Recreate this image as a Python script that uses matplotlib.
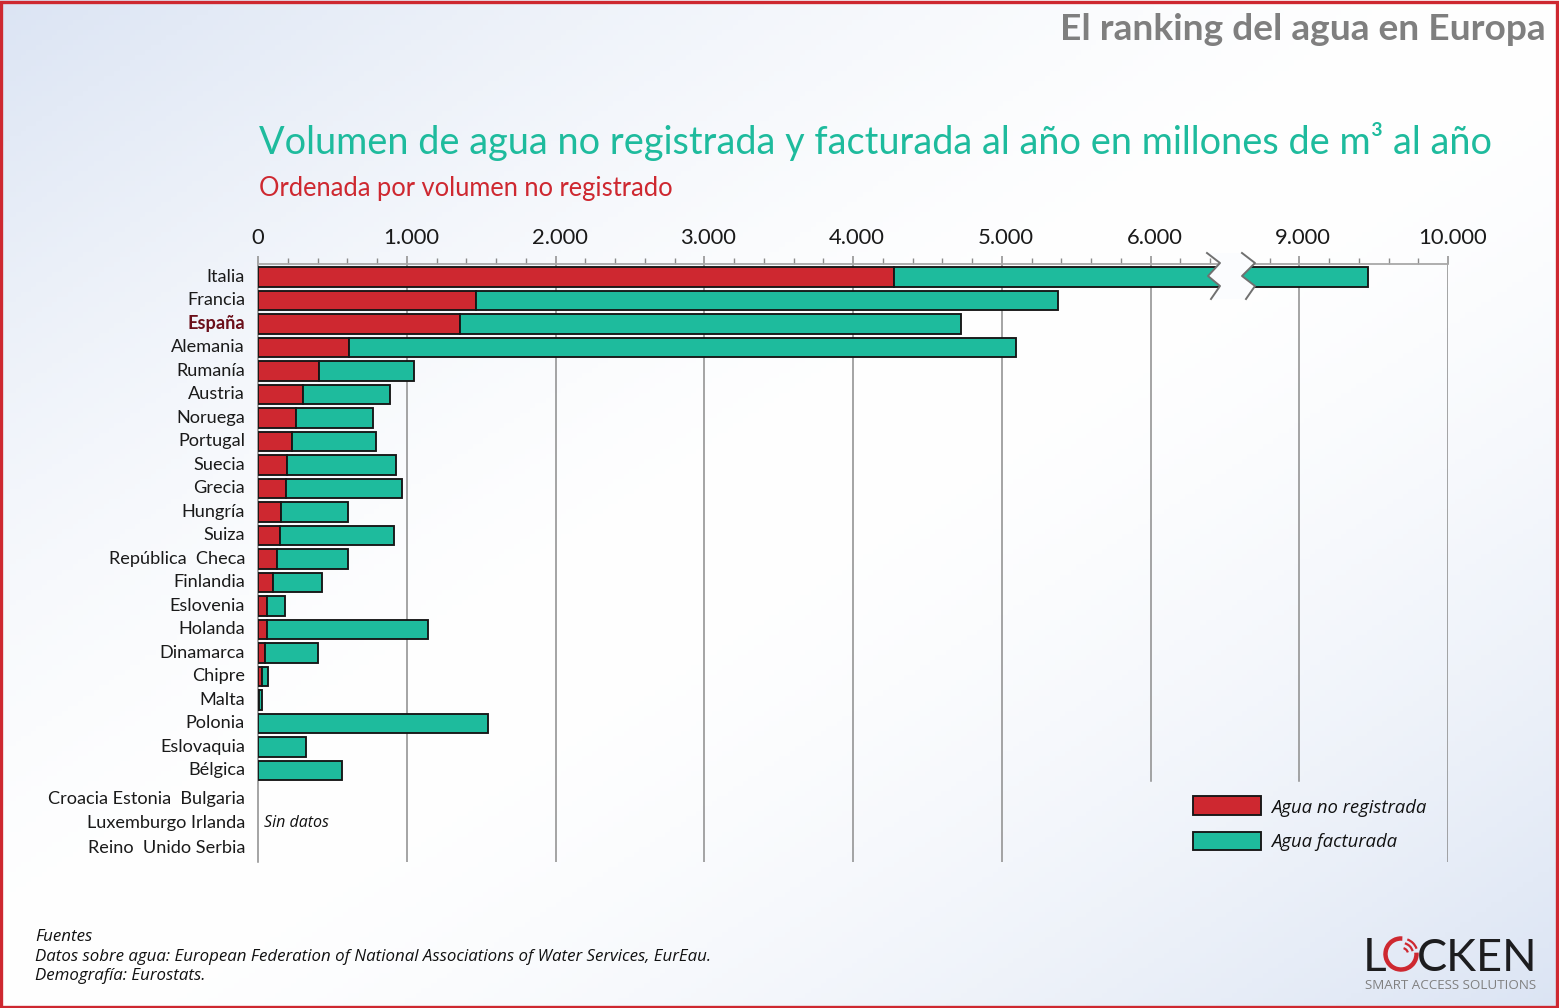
import numpy as np
import matplotlib
matplotlib.use("Agg")
import matplotlib.pyplot as plt
from matplotlib.patches import Arc, Polygon, Rectangle
from matplotlib.transforms import ScaledTranslation

paises = ["Italia", "Francia", "España", "Alemania", "Rumanía", "Austria", "Noruega", "Portugal",
          "Suecia", "Grecia", "Hungría", "Suiza", "República  Checa", "Finlandia", "Eslovenia",
          "Holanda", "Dinamarca", "Chipre", "Malta", "Polonia", "Eslovaquia", "Bélgica"]
no_registrada = [4276, 1466, 1358, 612, 410, 303, 255, 229, 195, 188, 155, 148, 128, 101, 60, 60, 47, 27, 7, 3, 3, 0]
total = [9462, 5378, 4726, 5096, 1049, 887, 773, 793, 928, 968, 605, 914, 605, 430, 182, 1143, 403, 67, 27, 1546, 323, 565]
sin_datos = ["Croacia Estonia  Bulgaria", "Luxemburgo Irlanda", "Reino  Unido Serbia"]
ticks = [0, 1000, 2000, 3000, 4000, 5000, 6000, 9000, 10000]
tick_labels = ["0", "1.000", "2.000", "3.000", "4.000", "5.000", "6.000", "9.000", "10.000"]

ROJO = "#CE2830"
VERDE = "#1EBB9D"
GRIS = "#8C8C8C"
W, H = 1559, 1008
plt.rcParams["font.family"] = "Lato"


# eje cortado: de 6.500 a 8.500 no ocupa espacio
def forward(v):
    v = np.asarray(v, dtype=float)
    return np.where(v <= 6500, v, np.where(v >= 8500, v - 2000, 6500))


def inverse(p):
    p = np.asarray(p, dtype=float)
    return np.where(p <= 6500, p, p + 2000)


fig = plt.figure(figsize=(W / 100, H / 100), dpi=100)

# fondo degradado
bg = fig.add_axes([0, 0, 1, 1], zorder=0)
xx, yy = np.meshgrid(np.linspace(0, 1, 300), np.linspace(0, 1, 200))
t = np.abs((xx + yy) / 2 - 0.5) * 2
img = np.zeros(xx.shape + (3,))
for i, (c0, c1) in enumerate(zip((1.0, 1.0, 1.0), (0.86, 0.895, 0.955))):
    img[..., i] = c0 + (c1 - c0) * t ** 1.6
bg.imshow(img, extent=(0, W, H, 0), aspect="auto")
bg.axis("off")

# grafico
ax = fig.add_axes([258 / W, 1 - 862 / H, 1190 / W, 598 / H], zorder=1)
ax.patch.set_alpha(0)
ax.set_xscale("function", functions=(forward, inverse))
ax.set_xlim(0, 10000)
ax.set_ylim((862 - 277) / 23.5, -(277 - 264) / 23.5)

y = np.arange(len(paises))
no_reg = np.array(no_registrada)
facturada = np.array(total) - no_reg
ax.barh(y, no_reg, height=0.81, color=ROJO, edgecolor="#161616", linewidth=1.35, zorder=3)
ax.barh(y, facturada, left=no_reg, height=0.81, color=VERDE, edgecolor="#161616", linewidth=1.35, zorder=3)

y_extra = [22.21, 23.25, 24.28]
ax.set_yticks(list(y) + y_extra)
ax.set_yticklabels(paises + sin_datos, fontsize=13.1, color="#1a1a1a")
ax.tick_params(axis="y", length=0, pad=9.4)
subir = ScaledTranslation(0, 1.5 / 100, fig.dpi_scale_trans)
for lab in ax.get_yticklabels():
    lab.set_transform(lab.get_transform() + subir)
lab = ax.get_yticklabels()[2]
lab.set_fontweight("bold")
lab.set_color("#6B0F1A")

ax.xaxis.tick_top()
ax.set_xticks(ticks)
ax.set_xticklabels(tick_labels, fontsize=15.8, color="#1a1a1a")
ax.set_xticks(list(range(200, 6500, 200)) + list(range(8600, 10000, 200)), minor=True)
ax.tick_params(axis="x", which="major", length=6, width=1.1, color=GRIS, pad=5.5)
ax.tick_params(axis="x", which="minor", length=4, width=1, color=GRIS)
derecha = ScaledTranslation(4 / 100, 0, fig.dpi_scale_trans)
for lab in ax.get_xticklabels()[1:]:
    lab.set_transform(lab.get_transform() + derecha)

for s in ["right", "bottom"]:
    ax.spines[s].set_visible(False)
ax.spines["top"].set_color("#A8A8A8")
ax.spines["top"].set_linewidth(1.3)
ax.spines["left"].set_color(GRIS)
ax.spines["left"].set_linewidth(1.1)

fondo_y = (781 - 277) / 23.5
for v in ticks[1:]:
    if v in (6000, 9000):
        ax.plot([v, v], [ax.get_ylim()[1], fondo_y], color=GRIS, lw=1.1, zorder=1)
    else:
        ax.axvline(v, color=GRIS, lw=1.1, zorder=1)

ax.text(42, 23.25, "Sin datos", fontsize=11.5, style="italic", family="Open Sans", va="center", color="#111111")

# capa superior en pixeles: corte del eje, textos, leyenda, logo
top = fig.add_axes([0, 0, 1, 1], zorder=2)
top.set_xlim(0, W)
top.set_ylim(H, 0)
top.axis("off")
top.patch.set_alpha(0)

izq = [(1207, 253), (1220, 263), (1208, 276), (1220, 286), (1211, 299)]
der = [(1242, 253), (1255, 263), (1242, 276), (1255, 286), (1246, 299)]
top.add_patch(Polygon(izq + der[::-1], closed=True, facecolor="#FBFCFE", edgecolor="none", zorder=1))
top.plot(*zip(*izq), color="#707070", lw=1.4, zorder=2)
top.plot(*zip(*der), color="#707070", lw=1.4, zorder=2)

top.text(1546, 40, "El ranking del agua en Europa", fontsize=26.7, fontweight="bold", color="#7F7F7F", ha="right")
top.text(259, 154, "Volumen de agua no registrada y facturada al año en millones de m³ al año",
         fontsize=27.3, color=VERDE)
top.text(259, 196, "Ordenada por volumen no registrado", fontsize=18.4, color=ROJO)

top.add_patch(Rectangle((1193, 796), 68, 19, facecolor=ROJO, edgecolor="#161616", lw=1.35))
top.add_patch(Rectangle((1193, 832), 68, 18, facecolor=VERDE, edgecolor="#161616", lw=1.35))
top.text(1271, 813, "Agua no registrada", fontsize=13.3, style="italic", family="Open Sans", color="#111111")
top.text(1271, 847, "Agua facturada", fontsize=13.3, style="italic", family="Open Sans", color="#111111")

fuentes = ["Fuentes",
           "Datos sobre agua: European Federation of National Associations of Water Services, EurEau.",
           "Demografía: Eurostats."]
for yy_txt, linea in zip([941, 961, 980], fuentes):
    top.text(35, yy_txt, linea, fontsize=12.2, style="italic", family="Open Sans", color="#111111")

# logo
top.text(1363, 971, "L", fontsize=33, color="#1d1d1f")
top.text(1538, 971, "CKEN", fontsize=32.5, color="#1d1d1f", ha="right")
top.add_patch(Arc((1401, 954), 31, 31, theta1=-5, theta2=275, color=ROJO, lw=3.2))
top.add_patch(Arc((1402, 954), 12, 12, theta1=-75, theta2=-15, color=ROJO, lw=1.6))
top.add_patch(Arc((1402, 954), 22, 22, theta1=-75, theta2=-15, color=ROJO, lw=1.6))
top.add_patch(Arc((1402, 954), 31, 31, theta1=-70, theta2=-20, color=ROJO, lw=1.6))
top.text(1365, 989, "SMART ACCESS SOLUTIONS", fontsize=9.6, color="#808080", family="Open Sans")

# marco rojo
top.add_patch(Rectangle((1.5, 1.5), W - 3, H - 3, fill=False, edgecolor=ROJO, lw=2.4))

fig.savefig("out.png", dpi=100)
